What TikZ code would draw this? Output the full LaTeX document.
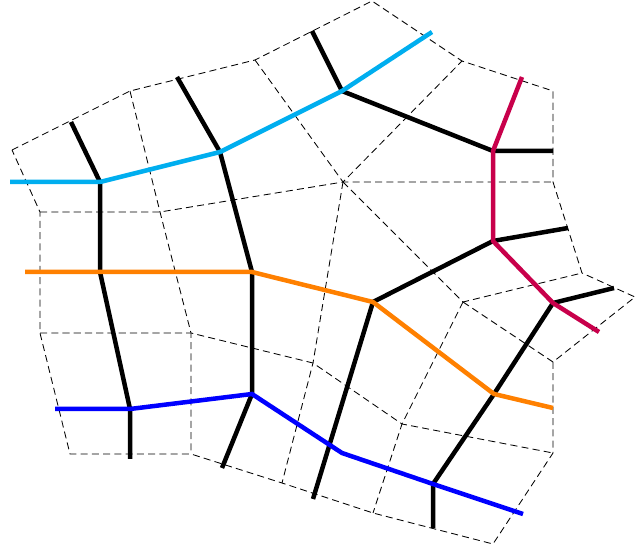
\documentclass[tikz,border=0pt]{standalone}
\begin{document}
\begin{tikzpicture}[x=0.025cm, y=-0.025cm,
    meshLine/.style={black, line width=0.6pt, dash pattern=on 5pt off 3pt},
    dualLine/.style={line width=3.2pt}]
    % Define colours
    \definecolor{cyanColour}{HTML}{00AEEF}
    \definecolor{orangeColour}{HTML}{FF8000}
    \definecolor{blueColour}{HTML}{0000FF}
    \definecolor{magentaColour}{HTML}{C8004B}

    % Fix the size of the picture
    \useasboundingbox (0,0) rectangle (639,550);

    % Define coordinates for the boundary vertices of the mesh
    \coordinate (m1) at (12,150);
    \coordinate (m2) at (130,91);
    \coordinate (m3) at (255,60);
    \coordinate (m4) at (372,1);
    \coordinate (m5) at (462,61);
    \coordinate (m6) at (553,91);
    \coordinate (m7) at (553,182);
    \coordinate (m8) at (582,273);
    \coordinate (m9) at (635,297);
    \coordinate (m10) at (553,362);
    \coordinate (m11) at (553,453);
    \coordinate (m12) at (493,544);
    \coordinate (m13) at (373,513);
    \coordinate (m14) at (282,483);
    \coordinate (m15) at (191,454);
    \coordinate (m16) at (70,454);
    \coordinate (m17) at (40,333);
    \coordinate (m18) at (40,212);

    % Define coordinates for the inner vertices of the mesh
    \coordinate (c) at (343,182);
    \coordinate (n1) at (160,212);
    \coordinate (n3) at (191,333);
    \coordinate (n4) at (313,363);
    \coordinate (n5) at (402,424);
    \coordinate (n6) at (463,302);

    % Draw the mesh
    \draw[meshLine] (m1) -- (m2) -- (m3) -- (m4) -- (m5) -- (m6) -- (m7) -- (m8) -- (m9)
        -- (m10) -- (m11) -- (m12) -- (m13) -- (m14) -- (m15) -- (m16) -- (m17) -- (m18) -- cycle;
    \draw[meshLine] (m18) -- (n1) -- (c) -- (m7);
    \draw[meshLine] (m2) -- (n1) -- (n3) -- (m15);
    \draw[meshLine] (m17) -- (n3) -- (n4) -- (n5) -- (m11);
    \draw[meshLine] (m3) -- (c) -- (m5);
    \draw[meshLine] (c) -- (n4) -- (m14);
    \draw[meshLine] (c) -- (n6) -- (m8);
    \draw[meshLine] (n6) -- (m10);
    \draw[meshLine] (n6) -- (n5) -- (m13);

    % Define coordinates for the dual vertices
    \coordinate (d1) at (100,182);
    \coordinate (d2) at (220,152);
    \coordinate (d3) at (342,91);
    \coordinate (d4) at (493,151);
    \coordinate (d5) at (493,241);
    \coordinate (d6) at (553,303);
    \coordinate (d7) at (494,394);
    \coordinate (d8) at (433,484);
    \coordinate (d9) at (342,453);
    \coordinate (d10) at (373,302);
    \coordinate (d11) at (252,272);
    \coordinate (d12) at (252,394);
    \coordinate (d13) at (130,409);
    \coordinate (d14) at (100,272);

    % Define coordinates for the free ends of the dual edges
    \coordinate (cyanA) at (10,182);
    \coordinate (cyanB) at (432,32);
    \coordinate (orangeA) at (25,272);
    \coordinate (orangeB) at (553,408);
    \coordinate (blueA) at (55,409);
    \coordinate (blueB) at (523,514);
    \coordinate (magentaA) at (522,77);
    \coordinate (magentaB) at (599,332);
    \coordinate (e1) at (71,122);
    \coordinate (e2) at (130,459);
    \coordinate (e3) at (177,77);
    \coordinate (e4) at (222,468);
    \coordinate (e5) at (312,31);
    \coordinate (e6) at (553,151);
    \coordinate (e7) at (568,228);
    \coordinate (e8) at (313,499);
    \coordinate (e9) at (614,288);
    \coordinate (e10) at (433,528);

    % Draw the black dual edges
    \draw[dualLine] (e1) -- (d1) -- (d14) -- (d13) -- (e2);
    \draw[dualLine] (e3) -- (d2) -- (d11) -- (d12) -- (e4);
    \draw[dualLine] (e5) -- (d3) -- (d4) -- (e6);
    \draw[dualLine] (e7) -- (d5) -- (d10) -- (e8);
    \draw[dualLine] (e9) -- (d6) -- (d7) -- (d8) -- (e10);

    % Draw the coloured dual edges
    \draw[dualLine, cyanColour] (cyanA) -- (d1) -- (d2) -- (d3) -- (cyanB);
    \draw[dualLine, orangeColour] (orangeA) -- (d14) -- (d11) -- (d10) -- (d7) -- (orangeB);
    \draw[dualLine, blueColour] (blueA) -- (d13) -- (d12) -- (d9) -- (d8) -- (blueB);
    \draw[dualLine, magentaColour] (magentaA) -- (d4) -- (d5) -- (d6) -- (magentaB);

\end{tikzpicture}
\end{document}
